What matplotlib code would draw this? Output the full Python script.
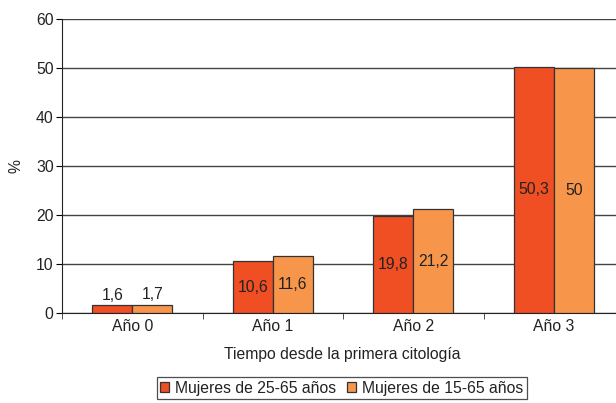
from matplotlib import pyplot as plt
import numpy

categories = ['Año 0', 'Año 1', 'Año 2', 'Año 3']
mujeres_25_65 = [1.6, 10.6, 19.8, 50.3]
mujeres_15_65 = [1.7, 11.6, 21.2, 50.0]
labels_25_65 = ['1,6', '10,6', '19,8', '50,3']
labels_15_65 = ['1,7', '11,6', '21,2', '50']
series_names = ['Mujeres de 25-65 años', 'Mujeres de 15-65 años']

plt.rcParams['font.family'] = ['Liberation Sans', 'DejaVu Sans']

W, H = 616, 403
fs = 11.3
fig = plt.figure(figsize=(W / 100, H / 100), dpi=100)
# plot area runs past the right edge of the picture
ax = fig.add_axes([62 / W, (H - 313) / H, (624 - 62) / W, (313 - 19) / H])

x = numpy.arange(len(categories))
width = 0.285
c1, c2 = '#F04E23', '#F7964A'
b1 = ax.bar(x - width / 2, mujeres_25_65, width, color=c1, edgecolor='#333333',
            linewidth=0.9, label=series_names[0], zorder=3)
b2 = ax.bar(x + width / 2, mujeres_15_65, width, color=c2, edgecolor='#333333',
            linewidth=0.9, label=series_names[1], zorder=3)

for bars, labels in ((b1, labels_25_65), (b2, labels_15_65)):
    for bar, lab in zip(bars, labels):
        h = bar.get_height()
        cx = bar.get_x() + bar.get_width() / 2
        if h < 5:
            ax.text(cx, h + 0.5, lab, ha='center', va='bottom', fontsize=fs, color='#222222', zorder=4)
        else:
            ax.text(cx, h / 2, lab, ha='center', va='center', fontsize=fs, color='#222222', zorder=4)

ax.set_xlim(-0.5, len(categories) - 0.5)
ax.set_ylim(0, 60)
ax.set_yticks(range(0, 61, 10))
ax.yaxis.grid(True, color='#444444', linewidth=1.0, zorder=0)
ax.set_axisbelow(True)

ax.set_xticks(x)
ax.set_xticklabels(categories, fontsize=fs, color='#222222')
ax.tick_params(axis='x', length=0, pad=4)
ax.set_xticks(numpy.arange(-0.5, len(categories), 1), minor=True)
ax.tick_params(axis='x', which='minor', length=4, direction='out', color='#333333')
ax.tick_params(axis='y', labelsize=fs, labelcolor='#222222', length=4, direction='out', pad=2)

for s in ('top', 'right'):
    ax.spines[s].set_visible(False)
ax.spines['left'].set_color('#222222')
ax.spines['bottom'].set_color('#222222')

ax.set_ylabel('%', fontsize=fs, color='#222222', labelpad=9)
fig.text(342 / W, 1 - 354 / H, 'Tiempo desde la primera citología', ha='center', va='center',
         fontsize=fs, color='#222222')

leg = fig.legend(loc='center', bbox_to_anchor=(342 / W, 1 - 388 / H), ncol=2, fontsize=fs,
                 frameon=True, fancybox=False, edgecolor='#222222', handlelength=0.55,
                 handleheight=0.55, handletextpad=0.4, columnspacing=0.7, borderpad=0.2,
                 borderaxespad=0)
leg.get_frame().set_linewidth(0.9)
for t in leg.get_texts():
    t.set_color('#222222')

fig.savefig('out.png', dpi=100)
